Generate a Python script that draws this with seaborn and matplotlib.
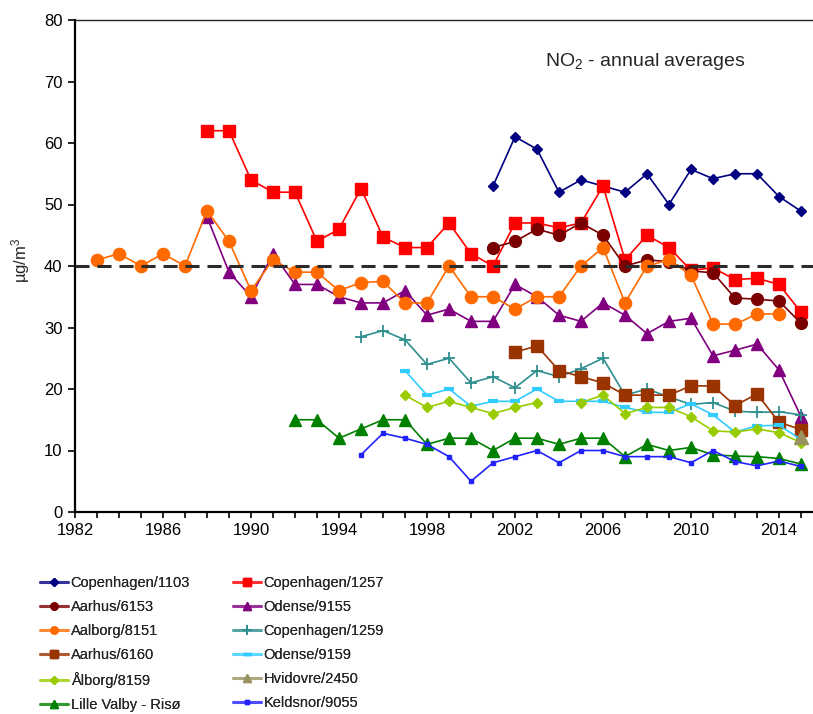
import numpy as np
import pandas as pd
import matplotlib
matplotlib.use("Agg")
import matplotlib.pyplot as plt
from matplotlib.lines import Line2D
import seaborn as sns

# Annual mean NO2 concentrations (µg/m³) per monitoring station.
# Each list starts at the year given in the matching *_start value.
cph_1103_start = 2001
cph_1103 = [53, 61, 59, 52, 54, 53, 52, 55, 50, 55.7, 54.2, 55, 55, 51.3, 48.9]

cph_1257_start = 1988
cph_1257 = [62, 62, 54, 52, 52, 44, 46, 52.6, 44.7, 43, 43, 47, 42, 40, 47, 47,
            46.2, 47, 53, 41, 45, 43, 39.3, 39.7, 37.8, 38, 37, 32.5]

aarhus_6153_start = 2001
aarhus_6153 = [43, 44, 46, 45, 47, 45, 40, 41, 40.7, 39.2, 38.9, 34.8, 34.6, 34.3, 30.7]

odense_9155_start = 1988
odense_9155 = [48, 39, 35, 42, 37, 37, 35, 34, 34, 36, 32, 33, 31, 31, 37, 35,
               32, 31, 34, 32, 29, 31, 31.5, 25.4, 26.3, 27.3, 23.1, 15.5]

aalborg_8151_start = 1983
aalborg_8151 = [41, 42, 40, 42, 40, 49, 44, 36, 41, 39, 39, 36, 37.3, 37.5, 34, 34,
                40, 35, 35, 33, 35, 35, 40, 43, 34, 40, 41, 38.5, 30.6, 30.5, 32.2, 32.2]

cph_1259_start = 1995
cph_1259 = [28.5, 29.5, 28, 24, 25, 21, 22, 20.2, 23, 22, 23.3, 25, 19, 20, 18.7,
            17.5, 17.8, 16.4, 16.2, 16.3, 15.8]

aarhus_6160_start = 2002
aarhus_6160 = [26, 27, 23, 22, 21, 19, 19, 19, 20.5, 20.5, 17.3, 19.2, 14.6, 13.4]

odense_9159_start = 1997
odense_9159 = [23, 19, 20, 17.2, 18, 18, 20, 18, 18, 18, 17, 16.2, 16.2, 17.6,
               15.8, 13, 14, 14.1, 11.8]

alborg_8159_start = 1997
alborg_8159 = [19, 17, 18, 17, 16, 17, 17.8, np.nan, 17.8, 19, 16, 17, 17, 15.5,
               13.2, 13, 13.5, 12.9, 11.3]

hvidovre_2450_start = 2015
hvidovre_2450 = [12.2]

lille_valby_start = 1992
lille_valby = [15, 15, 12, 13.5, 15, 15, 11, 12, 12, 10, 12, 12, 11, 12, 12, 9,
               11, 10, 10.5, 9.3, 9.1, 9, 8.7, 7.8]

keldsnor_9055_start = 1995
keldsnor_9055 = [9.3, 12.8, 12, 11, 9, 5, 8, 9, 10, 8, 10, 10, 9, 9, 9, 8, 10,
                 8.2, 7.5, 8.3, 7.4]

LIMIT_VALUE = 40
x_tick_years = [1982, 1986, 1990, 1994, 1998, 2002, 2006, 2010, 2014]
y_ticks = [0, 10, 20, 30, 40, 50, 60, 70, 80]

stations = [
    ("Copenhagen/1103", cph_1103_start, cph_1103),
    ("Copenhagen/1257", cph_1257_start, cph_1257),
    ("Aarhus/6153", aarhus_6153_start, aarhus_6153),
    ("Odense/9155", odense_9155_start, odense_9155),
    ("Aalborg/8151", aalborg_8151_start, aalborg_8151),
    ("Copenhagen/1259", cph_1259_start, cph_1259),
    ("Aarhus/6160", aarhus_6160_start, aarhus_6160),
    ("Odense/9159", odense_9159_start, odense_9159),
    ("Ålborg/8159", alborg_8159_start, alborg_8159),
    ("Hvidovre/2450", hvidovre_2450_start, hvidovre_2450),
    ("Lille Valby - Risø", lille_valby_start, lille_valby),
    ("Keldsnor/9055", keldsnor_9055_start, keldsnor_9055),
]

# Long table; a missing year splits a station's line into separate segments
rows = []
for name, start, values in stations:
    seg = 0
    for i, v in enumerate(values):
        if np.isnan(v):
            seg += 1
            continue
        rows.append({"station": name, "year": start + i, "value": v, "segment": seg})
df = pd.DataFrame(rows)

# marker styles: (colour, marker, markersize, markeredgewidth, legend markersize)
styles = {
    "Copenhagen/1103": ("#000080", "D", 5.4, 1.0, 3.8),
    "Copenhagen/1257": ("#FF0000", "s", 8.5, 1.0, 5.2),
    "Aarhus/6153": ("#7A0000", "o", 8.5, 1.0, 5.2),
    "Odense/9155": ("#800080", "^", 8.5, 1.0, 5.2),
    "Aalborg/8151": ("#FF6A00", "o", 8.8, 1.0, 5.2),
    "Copenhagen/1259": ("#2F8F8F", "+", 9.0, 1.3, 7.5),
    "Aarhus/6160": ("#993300", "s", 8.5, 1.0, 5.2),
    "Odense/9159": ("#33CCFF", "_", 7.0, 3.0, 5.5),
    "Ålborg/8159": ("#99CC00", "D", 5.4, 1.0, 3.8),
    "Hvidovre/2450": ("#99935F", "^", 9.5, 1.0, 5.2),
    "Lille Valby - Risø": ("#008000", "^", 8.0, 1.0, 5.2),
    "Keldsnor/9055": ("#2222FF", "s", 2.6, 1.0, 2.2),
}

sns.set_style("ticks")
plt.rcParams["font.family"] = ["Liberation Sans", "DejaVu Sans"]
plt.rcParams["mathtext.default"] = "regular"

W, H = 813, 714
fig = plt.figure(figsize=(W / 100, H / 100), dpi=100)
ax = fig.add_axes([75 / W, 1 - 512 / H, (W - 75) / W, 492 / H])

for name, start, values in stations:
    color, marker, ms, mew, _ = styles[name]
    sub = df[df["station"] == name]
    sns.lineplot(data=sub, x="year", y="value", units="segment", estimator=None,
                 sort=False, color=color, marker=marker, markersize=ms,
                 markeredgewidth=mew, markeredgecolor=color, markerfacecolor=color,
                 linewidth=1.2, legend=False, ax=ax)

# EU annual limit value
ax.axhline(LIMIT_VALUE, color="#2B2B2B", linewidth=2.2,
           linestyle=(0, (4.6, 2.6)), zorder=10)

ax.set_xlim(1982, 1982 + (W - 75) / 22.0)
ax.set_ylim(0, 80)
ax.set_xticks(range(1982, 2016))
ax.set_xticklabels([str(y) if y in x_tick_years else "" for y in range(1982, 2016)])
ax.set_yticks(y_ticks)
ax.set_yticklabels([str(v) for v in y_ticks])
ax.tick_params(axis="x", direction="out", length=4, width=1.2, pad=4,
               labelsize=12, colors="black")
ax.tick_params(axis="y", direction="out", length=5, width=1.2, pad=4,
               labelsize=12, colors="black")
ax.set_xlabel("")
ax.set_ylabel("")
fig.text(21 / W, 1 - 260 / H, "µg/m$^3$", rotation=90, fontsize=12,
         ha="center", va="center")

for side in ("left", "bottom"):
    ax.spines[side].set_linewidth(1.6)
    ax.spines[side].set_color("black")
ax.spines["top"].set_linewidth(1.0)
ax.spines["top"].set_color("#222222")
ax.spines["right"].set_visible(False)

ax.text((545 - 75) / 738, (512 - 62) / 492, "NO$_2$ - annual averages",
        transform=ax.transAxes, fontsize=14, ha="left", va="center")

# two-column legend under the plot: pale line with a solid marker on top
def handle(name):
    color, marker, ms, mew, lms = styles[name]
    line = Line2D([], [], color=color, alpha=0.55, linewidth=2.2)
    mark = Line2D([], [], linestyle="none", marker=marker, markersize=lms,
                  markeredgewidth=min(mew, 2.5), markerfacecolor=color,
                  markeredgecolor=color)
    return (line, mark)

names = [s[0] for s in stations]
left_col = names[0::2]
right_col = names[1::2]
legend_font = {"family": ["Liberation Sans", "DejaVu Sans"], "size": 10.5}
for col, x0 in ((left_col, 40), (right_col, 233)):
    leg = fig.legend([handle(n) for n in col], col,
                     loc="upper left", bbox_to_anchor=(x0 / W, 1 - 576 / H),
                     frameon=False, borderpad=0, borderaxespad=0,
                     handlelength=1.9, handletextpad=0.2, labelspacing=0.69,
                     prop=legend_font)
    fig.add_artist(leg)

fig.savefig("out.png", dpi=100)
